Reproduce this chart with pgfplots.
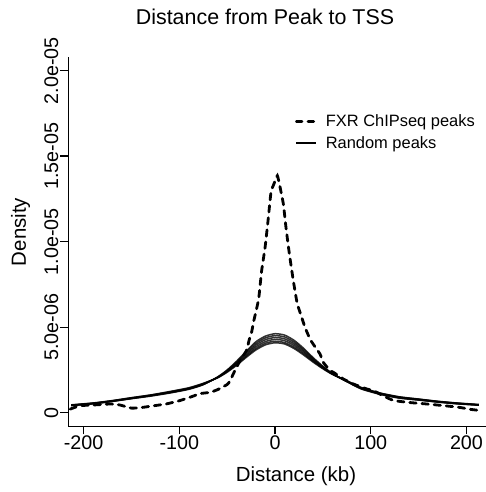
\documentclass[border=0pt]{standalone}
\usepackage{fontspec}
\setmainfont{Liberation Sans}
\usepackage{pgfplots}
\pgfplotsset{compat=1.18}

% densities in units of 1e-6, distance in kb
\pgfplotsset{randline/.style={black, opacity=0.8, line width=1.5bp, smooth, tension=0.4, forget plot}}

\begin{document}
\begin{tikzpicture}
\useasboundingbox (0,0) rectangle (486bp,492bp);
\begin{axis}[
  at={(68.3bp,65.6bp)}, anchor=south west,
  scale only axis, width=417.3bp, height=369.4bp,
  xmin=-216, xmax=220, ymin=-0.8, ymax=20.8,
  axis lines=left, axis line style={-, line width=1.4bp},
  tick align=outside, major tick length=8bp,
  every tick/.style={black, line width=1.4bp},
  xtick={-200,-100,0,100,200}, xticklabels={-200,-100,0,100,200},
  ytick={0,5,10,15,20}, yticklabels={0,5.0e-06,1.0e-05,1.5e-05,2.0e-05},
  tick label style={font=\fontsize{19.8}{20}\selectfont},
  xticklabel style={anchor=base, yshift=-14.6bp},
  yticklabel style={xshift=-2.3bp, rotate=90, anchor=base},
  title={Distance from Peak to TSS},
  title style={at={(rel axis cs:0.4714,1.0731)}, anchor=base, font=\fontsize{21.5}{22}\selectfont},
  xlabel={Distance (kb)},
  every axis x label/.style={at={(rel axis cs:0.5456,-0.1500)}, anchor=base, font=\fontsize{20.5}{21}\selectfont},
  ylabel={Density},
  every axis y label/.style={at={(rel axis cs:-0.1014,0.5263)}, rotate=90, anchor=base, font=\fontsize{20.5}{21}\selectfont},
  legend style={at={(rel axis cs:0.5433,0.8438)}, anchor=north west, draw=none, fill=none,
    inner sep=0pt, outer sep=0pt, row sep=5.8bp, column sep=8bp,
    font=\fontsize{16.5}{17}\selectfont,
    nodes={inner sep=0pt, text height=12bp, text depth=3.5bp, anchor=base west}},
  legend cell align=left,
  legend image code/.code={\draw[#1] (0bp,5bp) -- (20bp,5bp);},
]
\addlegendimage{black, line width=2.8bp, line cap=round, dash pattern=on 5.6bp off 6bp}
\addlegendentry{FXR ChIPseq peaks}
\addlegendimage{black, line width=1.5bp}
\addlegendentry{Random peaks}

% random peak sets
\addplot[randline] coordinates {
(-213,0.42) (-190,0.52) (-170,0.66) (-150,0.82) (-130,0.97) (-110,1.15) (-90,1.37) (-75,1.64)
(-60,2.09) (-50,2.50) (-40,3.02) (-30,3.60) (-20,4.15) (-10,4.48) (0,4.62) (10,4.54) (20,4.23)
(30,3.76) (40,3.21) (50,2.72) (60,2.29) (75,1.82) (90,1.39) (110,1.07) (130,0.85) (150,0.74)
(170,0.62) (190,0.52) (213,0.44)};
\addplot[randline] coordinates {
(-213,0.43) (-190,0.53) (-170,0.67) (-150,0.83) (-130,0.99) (-110,1.17) (-90,1.39) (-75,1.65)
(-60,2.08) (-50,2.48) (-40,2.97) (-30,3.53) (-20,4.05) (-10,4.38) (0,4.51) (10,4.43) (20,4.13)
(30,3.68) (40,3.16) (50,2.69) (60,2.28) (75,1.83) (90,1.41) (110,1.09) (130,0.87) (150,0.75)
(170,0.63) (190,0.53) (213,0.45)};
\addplot[randline] coordinates {
(-213,0.43) (-190,0.54) (-170,0.68) (-150,0.84) (-130,1.00) (-110,1.18) (-90,1.40) (-75,1.66)
(-60,2.07) (-50,2.45) (-40,2.92) (-30,3.45) (-20,3.95) (-10,4.27) (0,4.40) (10,4.32) (20,4.03)
(30,3.60) (40,3.10) (50,2.66) (60,2.27) (75,1.83) (90,1.42) (110,1.10) (130,0.88) (150,0.76)
(170,0.64) (190,0.54) (213,0.45)};
\addplot[randline] coordinates {
(-213,0.44) (-190,0.55) (-170,0.69) (-150,0.85) (-130,1.01) (-110,1.20) (-90,1.42) (-75,1.68)
(-60,2.06) (-50,2.42) (-40,2.87) (-30,3.37) (-20,3.85) (-10,4.16) (0,4.29) (10,4.21) (20,3.93)
(30,3.52) (40,3.05) (50,2.63) (60,2.26) (75,1.84) (90,1.44) (110,1.12) (130,0.90) (150,0.78)
(170,0.65) (190,0.55) (213,0.46)};
\addplot[randline] coordinates {
(-213,0.45) (-190,0.56) (-170,0.70) (-150,0.87) (-130,1.03) (-110,1.22) (-90,1.44) (-75,1.70)
(-60,2.05) (-50,2.40) (-40,2.82) (-30,3.30) (-20,3.75) (-10,4.06) (0,4.18) (10,4.10) (20,3.83)
(30,3.44) (40,3.00) (50,2.60) (60,2.25) (75,1.86) (90,1.46) (110,1.14) (130,0.92) (150,0.79)
(170,0.66) (190,0.56) (213,0.47)};
\addplot[randline] coordinates {
(-213,0.46) (-190,0.57) (-170,0.71) (-150,0.88) (-130,1.04) (-110,1.24) (-90,1.46) (-75,1.72)
(-60,2.04) (-50,2.37) (-40,2.78) (-30,3.24) (-20,3.67) (-10,3.97) (0,4.09) (10,4.02) (20,3.75)
(30,3.37) (40,2.95) (50,2.57) (60,2.24) (75,1.88) (90,1.48) (110,1.15) (130,0.93) (150,0.80)
(170,0.67) (190,0.57) (213,0.48)};

% FXR ChIP-seq peaks
\addplot[black, line width=2.8bp, line cap=round, dash pattern=on 6.4bp off 5.8bp, smooth, tension=0.3, forget plot] coordinates {
(-214,0.21) (-204,0.41) (-190,0.45) (-172,0.51) (-162,0.45) (-150,0.27) (-140,0.30) (-125,0.42)
(-113,0.52) (-100,0.70) (-88,0.92) (-78,1.12) (-68,1.19) (-60,1.35) (-50,1.65) (-47,1.87)
(-42,2.46) (-36,3.10) (-30,3.62) (-26.8,4.30) (-24.3,4.75) (-22.7,5.25) (-20,5.90) (-17,6.70)
(-14,8.30) (-10.4,9.67) (-7,11.4) (-4.2,12.9) (-1,13.4) (2.4,13.86) (5.2,13.2) (8.7,12.2)
(11.5,10.8) (15,9.28) (19.1,7.72) (22.6,6.55) (24.4,6.16) (31.3,5.0) (36.6,4.3) (40,4.0)
(47,3.43) (50.5,2.94) (57.5,2.46) (61,2.36) (71.4,1.97) (81.8,1.68) (95.8,1.39) (102.7,1.29)
(112,1.02) (123.6,0.72) (140,0.60) (158.5,0.51) (175,0.42) (193,0.31) (203.7,0.20) (211,0.15)};
\end{axis}
\end{tikzpicture}
\end{document}
